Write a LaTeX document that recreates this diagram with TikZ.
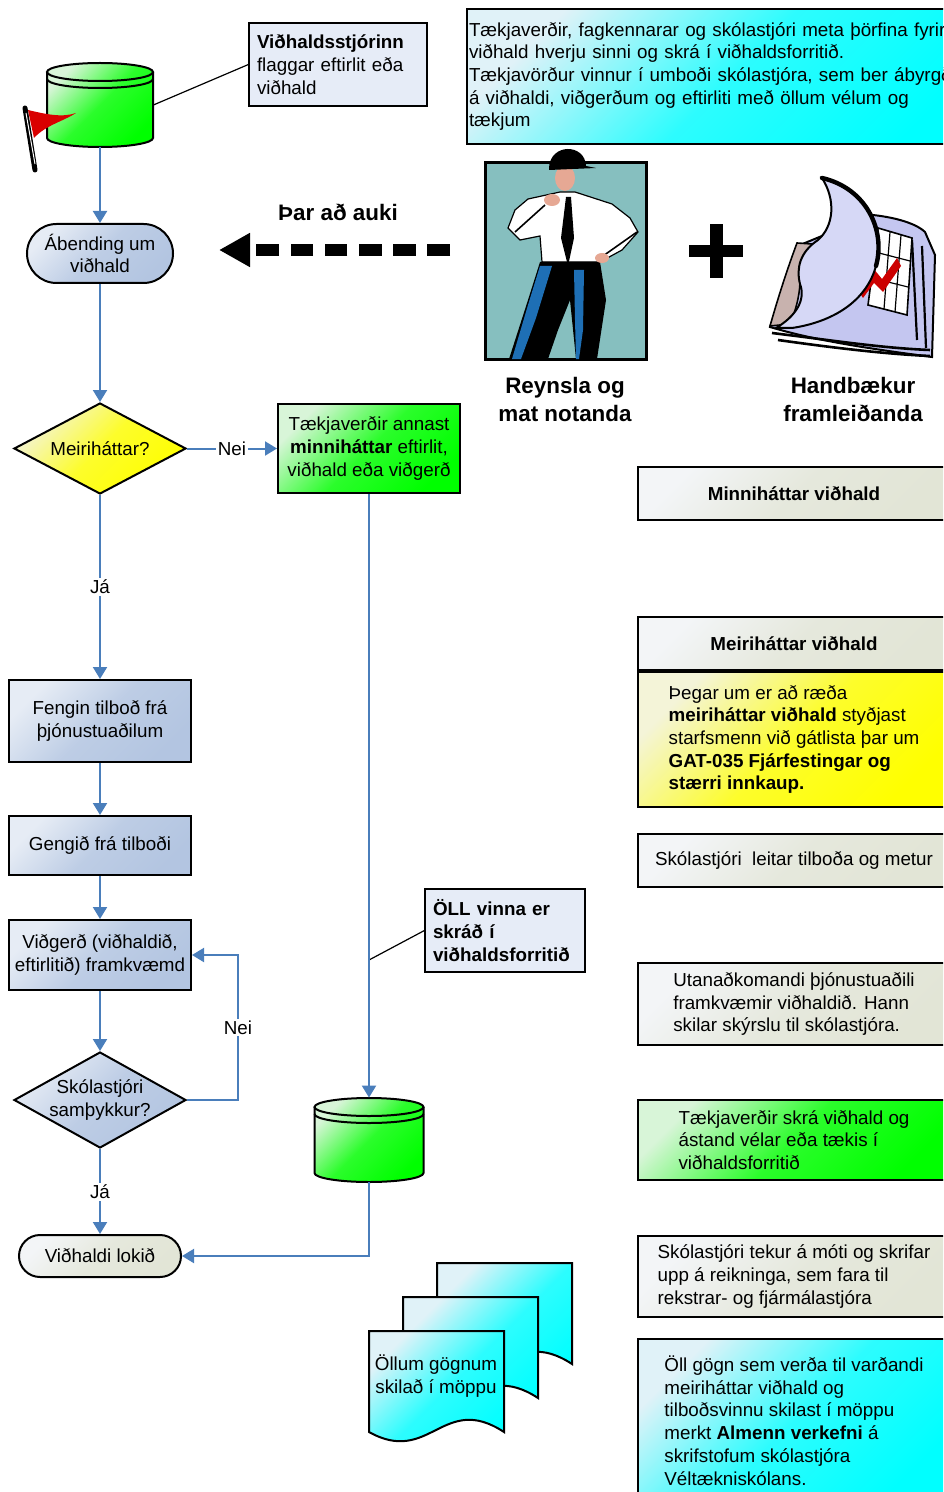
\documentclass[tikz,border=0pt]{standalone}
\usepackage{fontspec}
\setmainfont{Liberation Sans}
\usetikzlibrary{shapes.geometric,arrows.meta,positioning}
\definecolor{flowblue}{HTML}{4A7EBB}
\definecolor{notefill}{HTML}{E6ECF7}
\definecolor{steellt}{HTML}{E6ECF5}
\definecolor{steeldk}{HTML}{B3C5E1}
\definecolor{beigelt}{HTML}{F3F5F7}
\definecolor{beigedk}{HTML}{E2E5D6}
\definecolor{greenlt}{HTML}{D8F5D8}
\definecolor{greendk}{HTML}{00FF00}
\definecolor{yellowlt}{HTML}{F4F4D8}
\definecolor{yellowdk}{HTML}{FFFF00}
\definecolor{cyanlt}{HTML}{E0F2F8}
\definecolor{cyandk}{HTML}{00FFFF}
\definecolor{mancbg}{HTML}{86BFBF}
\definecolor{bookblue}{HTML}{C4C6F0}
\definecolor{curlblue}{HTML}{D6D8F6}
\definecolor{bookbrown}{HTML}{C8B2AE}
\definecolor{skin}{HTML}{E6A894}
\definecolor{jeans}{HTML}{1E6FB5}
% database drum: name, centre x, top y, x radius
\newcommand{\dbdraw}[4]{%
  \begin{scope}[shift={(#2,#3)}]
    \fill[grad={greenlt}{greendk}] (-#4,9) -- (-#4,75) arc[start angle=180, end angle=0, x radius=#4, y radius=9] -- (#4,9) arc[start angle=0, end angle=-180, x radius=#4, y radius=9] -- cycle;
    \draw[line width=1pt] (0,9) ellipse[x radius=#4, y radius=9];
    \draw[line width=1pt] (-#4,9) -- (-#4,75) arc[start angle=180, end angle=0, x radius=#4, y radius=9] -- (#4,9);
    \draw[line width=1pt] (-#4,16) arc[start angle=180, end angle=0, x radius=#4, y radius=9];
  \end{scope}
  \node[inner sep=0pt, minimum width=#4pt, minimum height=42pt] (#1) at ({#2},{#3+42}) {};
}
% document sheet: top left x, y
\newcommand{\docdraw}[2]{%
  \filldraw[line width=1pt, grad={cyanlt}{cyandk}] (#1,#2) -- ({#1+135},#2) -- ({#1+135},{#2+101}) .. controls ({#1+74},{#2+61}) and ({#1+61},{#2+135}) .. (#1,{#2+101}) -- cycle;
}
\tikzset{grad/.style 2 args={top color=#1, bottom color=#2, middle color={#2!80!#1}, shading angle=45}}
\begin{document}
\begin{tikzpicture}[x=0.5pt, y=-0.5pt,
  txt/.style={font=\fontsize{9.4}{11.35}\selectfont},
  bigtxt/.style={font=\fontsize{11.2}{14}\selectfont\bfseries},
  box/.style={draw, line width=1pt, inner sep=0pt, txt, align=center},
  proc/.style={box, grad={steellt}{steeldk}, minimum width=91pt},
  rbox/.style={box, grad={beigelt}{beigedk}, minimum width=156pt, align=left},
  dia/.style={draw, line width=1pt, shape=diamond, inner sep=0pt, minimum width=86pt, aspect=1.9},
  note/.style={draw, line width=0.6pt, fill=notefill, txt, align=left, inner xsep=4pt, inner ysep=0pt},
  flow/.style={draw=flowblue, line width=1pt, -{Triangle[length=6pt,width=7pt]}},
  lbl/.style={txt, fill=white, inner sep=1pt},
  pin/.style={line width=0.6pt}]
\useasboundingbox (0,0) rectangle (943,1492);
\clip (0,0) rectangle (943,1492);

% drum with flag
\dbdraw{db1}{100}{63}{53}
\draw[line width=2.5pt, line cap=round] (25,108) -- (35,170);
\draw[white, line width=0.5pt] (26,113) -- (35,164);
\fill[red!85!black] (28,110) .. controls (45,114) and (62,118) .. (76,113) .. controls (62,122) and (46,125) .. (34,138) -- cycle;
\node[note, text width=81pt, minimum height=41.5pt] (note1) at (338,64.5) {\textbf{Viðhaldsstjórinn}\\flaggar eftirlit eða\\viðhald};
\draw[pin] (db1.east) -- (note1.west);

% left column
\node[box, rounded corners=14.75pt, grad={steellt}{steeldk}, minimum width=73pt, minimum height=29.5pt] (abend) at (100,253.5) {Ábending um\\viðhald};
\node[dia, grad={yellowlt}{yellowdk}, minimum height=45.5pt] (meiri) at (100,448.5) {};
\node[txt] (meiritxt) at (meiri) {Meiriháttar?};
\node[box, grad={greenlt}{greendk}, minimum width=91pt, minimum height=44.5pt] (tkmin) at (369,448.5) {Tækjaverðir annast\\\textbf{minniháttar} eftirlit,\\viðhald eða viðgerð};
\node[proc, minimum height=41pt] (fengin) at (100,721) {Fengin tilboð frá\\þjónustuaðilum};
\node[proc, minimum height=29.5pt] (gengid) at (100,845.5) {Gengið frá tilboði};
\node[proc, minimum height=35pt] (vidgerd) at (100,955) {Viðgerð (viðhaldið,\\eftirlitið) framkvæmd};
\node[dia, grad={steellt}{steeldk}, minimum height=48pt] (okdia) at (100,1100) {};
\node[txt, align=center] (okdiatxt) at (okdia) {Skólastjóri\\samþykkur?};
\node[box, rounded corners=10.5pt, grad={beigelt}{beigedk}, minimum width=81pt, minimum height=21pt] (lokid) at (100,1256) {Viðhaldi lokið};
\dbdraw{db2}{369}{1098}{54.5}
\node[note, text width=72pt, minimum height=41.5pt, font=\fontsize{9.4}{11.35}\selectfont\bfseries] (note2) at (505,930.5) {ÖLL vinna er\\skráð í\\viðhaldsforritið};
\coordinate (tap) at (369,960);
\draw[pin] (tap) -- (note2.west);

\draw[flow] (db1) -- (abend);
\draw[flow] (abend) -- (meiri);
\draw[flow] (meiri) -- node[lbl] (neiA) {Nei} (tkmin);
\draw[flow] (meiri) -- node[lbl] (jaA) {Já} (fengin);
\draw[flow] (fengin) -- (gengid);
\draw[flow] (gengid) -- (vidgerd);
\draw[flow] (vidgerd) -- (okdia);
\draw[flow] (okdia.east) -- ++(51,0) |- node[lbl, pos=0.25] (neiB) {Nei} (vidgerd.east);
\draw[flow] (okdia) -- node[lbl] (jaB) {Já} (lokid);
\draw[flow] (tkmin) -- (db2);
\draw[flow] (db2.south) |- (lokid.east);

% stacked sheets
\docdraw{437}{1263}
\docdraw{403}{1297}
\docdraw{369}{1331}
\node[txt, align=center] (docs) at (436,1376) {Öllum gögnum\\skilað í möppu};

% top right
\node[box, align=left, grad={cyanlt}{cyandk}, anchor=west, text width=262pt, inner xsep=1pt, minimum height=67.5pt] (topnote) at (466,76.5) {Tækjaverðir, fagkennarar og skólastjóri meta þörfina fyrir\\viðhald hverju sinni og skrá í viðhaldsforritið.\\Tækjavörður vinnur í umboði skólastjóra, sem ber ábyrgð\\á viðhaldi, viðgerðum og eftirliti með öllum vélum og\\tækjum};

\node[bigtxt] (extra) at (338,212) {Þar að auki};
\coordinate (dashA) at (450,250);
\coordinate (dashB) at (219,250);
\draw[line width=6pt, dash pattern=on 11.35pt off 5.75pt, -{Triangle[length=15.5pt,width=16pt]}] (dashA) -- (dashB);

% man
\node[draw, line width=1.5pt, fill=mancbg, inner sep=0pt, minimum width=80.5pt, minimum height=98pt] (man) at (565.5,261) {};
\filldraw[fill=white, line width=0.6pt] (528,199) -- (560,192) -- (575,192) -- (612,204) -- (630,218) -- (638,232) -- (622,250) -- (600,262) -- (542,262) -- (540,236) -- (520,240) -- (508,228) -- (515,210) -- cycle;
\draw[line width=0.8pt] (515,232) -- (545,205);
\draw[line width=0.8pt] (637,232) -- (603,256);
\fill (566,197) -- (571,197) -- (574,238) -- (568,266) -- (561,238) -- cycle;
\fill (540,262) -- (600,262) -- (606,300) -- (597,359) -- (576,359) -- (570,300) -- (558,330) -- (548,359) -- (509,359) -- (528,300) -- cycle;
\fill[jeans] (540,266) -- (552,266) -- (536,318) -- (521,359) -- (512,359) -- (528,305) -- cycle;
\fill[jeans] (574,270) -- (584,270) -- (583,330) -- (579,359) -- (576,359) -- (575,320) -- cycle;
\fill[skin] (565,178) ellipse[x radius=10, y radius=13];
\fill[skin] (552,200) ellipse[x radius=8, y radius=6];
\fill[skin] (602,258) ellipse[x radius=7, y radius=5];
\fill (549,168) .. controls (550,143) and (585,143) .. (586,166) -- (596,168) -- (549,170) -- cycle;
\node[bigtxt, align=center] (reynsla) at (565,399) {Reynsla og\\mat notanda};

% plus
\fill (709.5,224) rectangle (722.5,278);
\fill (689,245) rectangle (743,257);

% manuals
\filldraw[fill=bookblue, line width=1pt] (770,327) -- (800,245) -- (873,215) .. controls (900,218) and (918,225) .. (925,232) -- (935,255) -- (932,357) .. controls (880,350) and (820,342) .. (770,327) -- cycle;
\draw[line width=1.3pt] (772,333) .. controls (830,340) and (880,348) .. (930,350);
\draw[line width=1.3pt] (778,340) .. controls (835,348) and (885,354) .. (930,356);
\draw[line width=1.1pt] (912,240) -- (917,340) (922,246) -- (926,348);
\filldraw[fill=white, line width=0.8pt] (878,228) -- (912,238) -- (907,315) -- (868,305) -- cycle;
\draw[line width=0.6pt] (875,252) -- (910,261) (872,278) -- (908,287) (890,232) -- (884,309) (901,235) -- (895,312);
\fill[red!80!black] (858,290) -- (873,268) -- (882,279) -- (897,258) -- (901,266) -- (883,292) -- (874,283) -- (863,298) -- cycle;
\filldraw[fill=bookbrown, line width=0.8pt] (797,243) .. controls (785,275) and (776,305) .. (770,326) -- (790,324) .. controls (798,305) and (800,290) .. (800,280) -- (812,244) -- cycle;
\filldraw[fill=curlblue, line width=1pt] (822,178) .. controls (866,188) and (886,230) .. (876,266) .. controls (866,302) and (832,322) .. (792,328) -- (776,328) .. controls (796,316) and (806,300) .. (800,284) .. controls (796,268) and (800,252) .. (818,240) .. controls (834,226) and (836,200) .. (822,178) -- cycle;
\draw[line width=2.2pt, line cap=round] (822,178) .. controls (866,188) and (886,230) .. (876,266);
\node[bigtxt, align=center] (handb) at (853,399) {Handbækur\\framleiðanda};

% right column
\node[rbox, minimum height=26.5pt] (minn) at (794,493.5) {\textbf{Minniháttar viðhald}};
\node[rbox, minimum height=26.5pt] (meirib) at (794,643.5) {\textbf{Meiriháttar viðhald}};
\node[rbox, grad={yellowlt}{yellowdk}, minimum height=67.5pt] (gul) at (794,739.5) {Þegar um er að ræða\\\textbf{meiriháttar viðhald} styðjast\\starfsmenn við gátlista þar um\\\textbf{GAT-035 Fjárfestingar og}\\\textbf{stærri innkaup.}};
\node[rbox, minimum height=26.5pt] (leitar) at (794,860.5) {Skólastjóri\ \ leitar tilboða og metur};
\node[rbox, minimum height=41pt] (utan) at (794,1004) {Utanaðkomandi þjónustuaðili\\framkvæmir viðhaldið. Hann\\skilar skýrslu til skólastjóra.};
\node[rbox, grad={greenlt}{greendk}, minimum height=40pt] (skra) at (794,1140) {Tækjaverðir skrá viðhald og\\ástand vélar eða tækis í\\viðhaldsforritið};
\node[rbox, minimum height=40.5pt] (tekur) at (794,1276.5) {Skólastjóri tekur á móti og skrifar\\upp á reikninga, sem fara til\\rekstrar- og fjármálastjóra};
\node[rbox, grad={cyanlt}{cyandk}, minimum height=81.5pt] (ollgogn) at (794,1420.5) {Öll gögn sem verða til varðandi\\meiriháttar viðhald og\\tilboðsvinnu skilast í möppu\\merkt \textbf{Almenn verkefni} á\\skrifstofum skólastjóra\\Véltækniskólans.};
\end{tikzpicture}
\end{document}
